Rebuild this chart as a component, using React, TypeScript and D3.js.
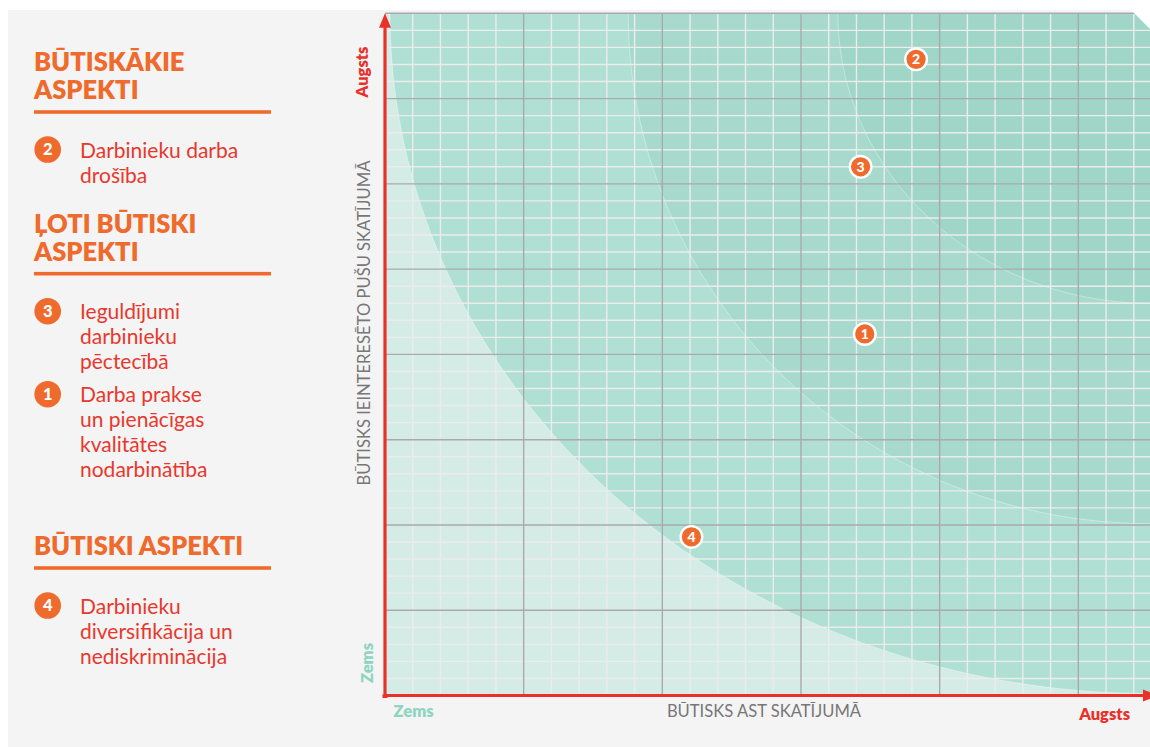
import React from 'react';
import * as d3 from 'd3';

// ---------- data ----------
const pointIds = [2, 3, 1, 4];
const pointX = [3.83, 3.43, 3.46, 2.21];
const pointY = [7.46, 6.2, 4.24, 1.86];

// materiality zones: quarter ellipses around top-right corner (fractions of axis extent)
const zoneRadiusX = [0.9935, 0.682, 0.408];
const zoneRadiusY = [0.997, 0.748, 0.425];
const zoneColors = ['#b0dfd3', '#a7dacd', '#9fd6c7'];

const xMajorTicks = [0, 1, 2, 3, 4, 5];
const yMajorTicks = [0, 1, 2, 3, 4, 5, 6, 7, 8];
const minorStep = 0.2;

const headingLines = [
  ['BŪTISKĀKIE', 'ASPEKTI'],
  ['ĻOTI BŪTISKI', 'ASPEKTI'],
  ['BŪTISKI ASPEKTI'],
];
const groupItemIds = [[2], [3, 1], [4]];
const itemLabels: Record<number, string[]> = {
  2: ['Darbinieku darba', 'drošība'],
  3: ['Ieguldījumi', 'darbinieku', 'pēctecībā'],
  1: ['Darba prakse', 'un pienācīgas', 'kvalitātes', 'nodarbinātība'],
  4: ['Darbinieku', 'diversifikācija un', 'nediskriminācija'],
};

const xAxisTitle = 'BŪTISKS AST SKATĪJUMĀ';
const yAxisTitle = 'BŪTISKS IEINTERESĒTO PUŠU SKATĪJUMĀ';
const lowLabel = 'Zems';
const highLabel = 'Augsts';

// ---------- style ----------
const FONT = 'Lato, "Open Sans", sans-serif';
const ORANGE = '#ef6b2d';
const RED_TEXT = '#e8382d';
const AXIS_RED = '#e9312a';
const TEAL_LABEL = '#8fd4c1';
const GREY_TEXT = '#777777';

const X_MAX = 5.517;
const Y_MAX = 8;

export default function App() {
  const x = d3.scaleLinear().domain([0, X_MAX]).range([385, 1150]);
  const y = d3.scaleLinear().domain([0, Y_MAX]).range([695.5, 13.3]);

  const angles = d3.range(0, 90.5, 1).map((d) => (d * Math.PI) / 180);
  const zonePaths = zoneRadiusX.map((rxf, i) => {
    const ryf = zoneRadiusY[i];
    const pts: [number, number][] = angles.map((a) => [
      x(X_MAX - rxf * X_MAX * Math.cos(a)),
      y(Y_MAX - ryf * Y_MAX * Math.sin(a)),
    ]);
    const arc = d3.line()(pts) as string;
    return { fill: arc + `L${x(X_MAX)},${y(Y_MAX)}Z`, arc };
  });

  const xMinor = d3
    .range(0, X_MAX + 1e-6, minorStep)
    .filter((v) => Math.abs(v - Math.round(v)) > 1e-6);
  const yMinor = d3
    .range(0, Y_MAX + 1e-6, minorStep)
    .filter((v) => Math.abs(v - Math.round(v)) > 1e-6);

  // legend layout
  const headingBaselines = [71, 232.7, 555];
  const legendEls: React.ReactNode[] = [];
  headingLines.forEach((lines, gi) => {
    const hb = headingBaselines[gi];
    lines.forEach((ln, li) => {
      legendEls.push(
        <text
          key={`h${gi}-${li}`}
          x={34}
          y={hb + li * 28}
          fontFamily={FONT}
          fontWeight={800}
          fontSize={25.5}
          fill={ORANGE}
        >
          {ln}
        </text>
      );
    });
    const underline = hb + (lines.length - 1) * 28 + 13;
    legendEls.push(
      <rect key={`u${gi}`} x={34} y={underline - 1.8} width={237} height={3.6} fill={ORANGE} />
    );
    let cy = underline + 37.5;
    groupItemIds[gi].forEach((id) => {
      const lbl = itemLabels[id];
      legendEls.push(
        <g key={`i${id}`}>
          <circle cx={47.7} cy={cy} r={13.3} fill={ORANGE} />
          <text
            x={47.7}
            y={cy + 5.8}
            textAnchor="middle"
            fontFamily={FONT}
            fontWeight={900}
            fontSize={16.5}
            fill="#fff"
          >
            {id}
          </text>
          {lbl.map((t, k) => (
            <text
              key={k}
              x={80}
              y={cy + 8 + k * 25}
              fontFamily={FONT}
              fontSize={21}
              fill={RED_TEXT}
            >
              {t}
            </text>
          ))}
        </g>
      );
      cy = cy + 8 + (lbl.length - 1) * 25 + 25;
    });
  });

  const X0 = x(0);
  const Y0 = y(0);

  return (
    <svg
      width={1150}
      height={747}
      style={{ position: 'absolute', left: 0, top: 0, background: '#fff' }}
    >
      <rect x={8} y={10} width={1142} height={737} fill="#f4f4f4" />

      {/* plot background */}
      <rect x={X0} y={y(Y_MAX)} width={x(X_MAX) - X0} height={Y0 - y(Y_MAX)} fill="#d5ece6" />
      {zonePaths.map((z, i) => (
        <path key={`z${i}`} d={z.fill} fill={zoneColors[i]} />
      ))}
      {zonePaths.map((z, i) => (
        <path key={`zl${i}`} d={z.arc} fill="none" stroke="rgba(255,255,255,0.35)" strokeWidth={1} />
      ))}

      {/* minor grid */}
      {xMinor.map((v) => (
        <line key={`xm${v}`} x1={x(v)} x2={x(v)} y1={y(0)} y2={y(Y_MAX)} stroke="#ececec" strokeWidth={1.4} />
      ))}
      {yMinor.map((v) => (
        <line key={`ym${v}`} x1={X0} x2={x(X_MAX)} y1={y(v)} y2={y(v)} stroke="#ececec" strokeWidth={1.4} />
      ))}
      {/* major grid */}
      {xMajorTicks.filter((v) => v > 0).map((v) => (
        <line key={`xM${v}`} x1={x(v)} x2={x(v)} y1={y(0)} y2={y(Y_MAX)} stroke="#aaaaaa" strokeWidth={1.4} />
      ))}
      {yMajorTicks.filter((v) => v > 0).map((v) => (
        <line key={`yM${v}`} x1={X0} x2={x(X_MAX)} y1={y(v)} y2={y(v)} stroke="#aaaaaa" strokeWidth={1.4} />
      ))}

      {/* axes */}
      <line x1={X0} x2={X0} y1={Y0 + 1.5} y2={y(Y_MAX) + 12} stroke={AXIS_RED} strokeWidth={3.2} />
      <path
        d={`M${X0},${y(Y_MAX)} L${X0 - 6},${y(Y_MAX) + 14.5} L${X0 + 6},${y(Y_MAX) + 14.5} Z`}
        fill={AXIS_RED}
      />
      <line x1={X0 - 1.5} x2={1146} y1={Y0} y2={Y0} stroke={AXIS_RED} strokeWidth={3.2} />
      <path d={`M1158,${Y0} L1143,${Y0 - 6} L1143,${Y0 + 6} Z`} fill={AXIS_RED} />
      <rect x={X0 - 2.5} y={Y0 - 1} width={5} height={3.5} fill={AXIS_RED} />

      {/* axis labels */}
      <text
        transform={`translate(368,72) rotate(-90)`}
        textAnchor="middle"
        fontFamily={FONT}
        fontWeight={800}
        fontSize={16.5}
        fill={AXIS_RED}
      >
        {highLabel}
      </text>
      <text
        transform={`translate(373,663) rotate(-90)`}
        textAnchor="middle"
        fontFamily={FONT}
        fontWeight={800}
        fontSize={16.5}
        fill={TEAL_LABEL}
      >
        {lowLabel}
      </text>
      <text
        transform={`translate(369.5,323) rotate(-90)`}
        textAnchor="middle"
        fontFamily={FONT}
        fontSize={16.6}
        fill={GREY_TEXT}
      >
        {yAxisTitle}
      </text>
      <text x={393.5} y={717} fontFamily={FONT} fontWeight={800} fontSize={16.5} fill={TEAL_LABEL}>
        {lowLabel}
      </text>
      <text x={1130} y={719.5} textAnchor="end" fontFamily={FONT} fontWeight={800} fontSize={16.5} fill={AXIS_RED}>
        {highLabel}
      </text>
      <text x={764} y={717} textAnchor="middle" fontFamily={FONT} fontSize={16.6} fill={GREY_TEXT}>
        {xAxisTitle}
      </text>

      {/* markers */}
      {pointIds.map((id, i) => (
        <g key={`p${id}`} transform={`translate(${x(pointX[i])},${y(pointY[i])})`}>
          <circle r={10.8} fill={ORANGE} stroke="#fff" strokeWidth={2.4} />
          <text y={5} textAnchor="middle" fontFamily={FONT} fontWeight={900} fontSize={14} fill="#fff">
            {id}
          </text>
        </g>
      ))}

      {/* cropped corner */}
      <path d="M1130,9 L1151,9 L1151,30 Z" fill="#fff" />

      {legendEls}
    </svg>
  );
}
